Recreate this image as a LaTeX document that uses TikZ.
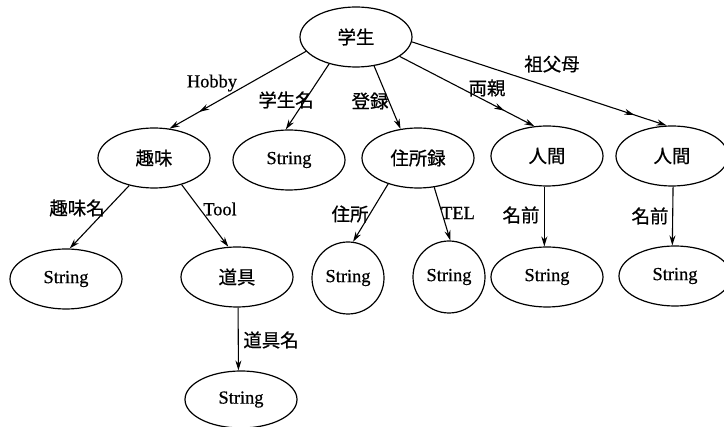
\documentclass[tikz,border=0pt]{standalone}
\usepackage{fontspec}
\setmainfont[FakeBold=0.6]{Liberation Serif}
\newfontfamily\jp[FakeBold=0.8]{Noto Sans CJK JP}
\usetikzlibrary{shapes.geometric,arrows.meta,decorations.markings}
\begin{document}
\begin{tikzpicture}[x=1pt,y=-1pt,
  every node/.style={font=\fontsize{18.4}{20}\selectfont},
  ell/.style={draw,ellipse,minimum width=112pt,minimum height=60pt,inner sep=0pt,line width=1.2pt},
  circ/.style={draw,circle,minimum size=72pt,inner sep=0pt,line width=1.2pt},
  conn/.style={line width=1.1pt,-{Stealth[length=10pt,width=6pt]}},
  midarrow/.style={postaction={decorate},decoration={markings,mark=at position -34pt with {\arrow{Stealth[length=10pt,width=6pt]}}}},
  lab/.style={inner sep=0pt}]
\useasboundingbox (0,0) rectangle (724,427);
% nodes
\node[ell] (st) at (356,37) {\jp 学生};
\node[ell] (hobby) at (154,158) {\jp 趣味};
\node[ell] (sname) at (289,160) {String};
\node[ell] (reg) at (418,158) {\jp 住所録};
\node[ell] (p1) at (547,156) {\jp 人間};
\node[ell] (p2) at (672,156) {\jp 人間};
\node[ell] (hs) at (66,279) {String};
\node[ell] (tool) at (237,277) {\jp 道具};
\node[ell,minimum height=57pt] (ts) at (241,399.5) {String};
\node[circ] (a1) at (348,278) {String};
\node[circ] (a2) at (449,277) {String};
\node[ell] (n1) at (547,277) {String};
\node[ell] (n2) at (675,276) {String};
% connectors
\draw[conn,midarrow] (st.-164.6) -- (hobby.62);
\draw[conn] (st.-135) -- (sname.96);
\draw[conn] (st.-58) -- (reg.121);
\draw[conn,midarrow] (st.-24) -- (p1.113);
\draw[conn,midarrow] (st.-5) -- (p2.100);
\draw[conn] (hobby.-132) -- (hs.83);
\draw[conn] (hobby.-44) -- (tool.106);
\draw[conn] (reg.-139) -- (a1.82);
\draw[conn] (reg.-61) -- (a2.88);
\draw[conn] (p1.-95) -- (n1.95);
\draw[conn] (p2.-88) -- (n2.95);
\draw[conn] (tool.-88) -- (ts.95);
% labels
\node[lab] (lhobby) at (212,83) {Hobby};
\node[lab] (lsname) at (286,100) {\jp 学生名};
\node[lab] (lreg) at (370,101) {\jp 登録};
\node[lab] (lpar) at (487,88) {\jp 両親};
\node[lab] (lgp) at (552,64) {\jp 祖父母};
\node[lab] (lhn) at (77,208) {\jp 趣味名};
\node[lab] (ltool) at (220,209) {Tool};
\node[lab] (laddr) at (350,214) {\jp 住所};
\node[lab] (ltel) at (458,213) {TEL};
\node[lab] (lnm1) at (521,215) {\jp 名前};
\node[lab] (lnm2) at (650,216) {\jp 名前};
\node[lab] (ltn) at (271,340) {\jp 道具名};
\end{tikzpicture}
\end{document}
